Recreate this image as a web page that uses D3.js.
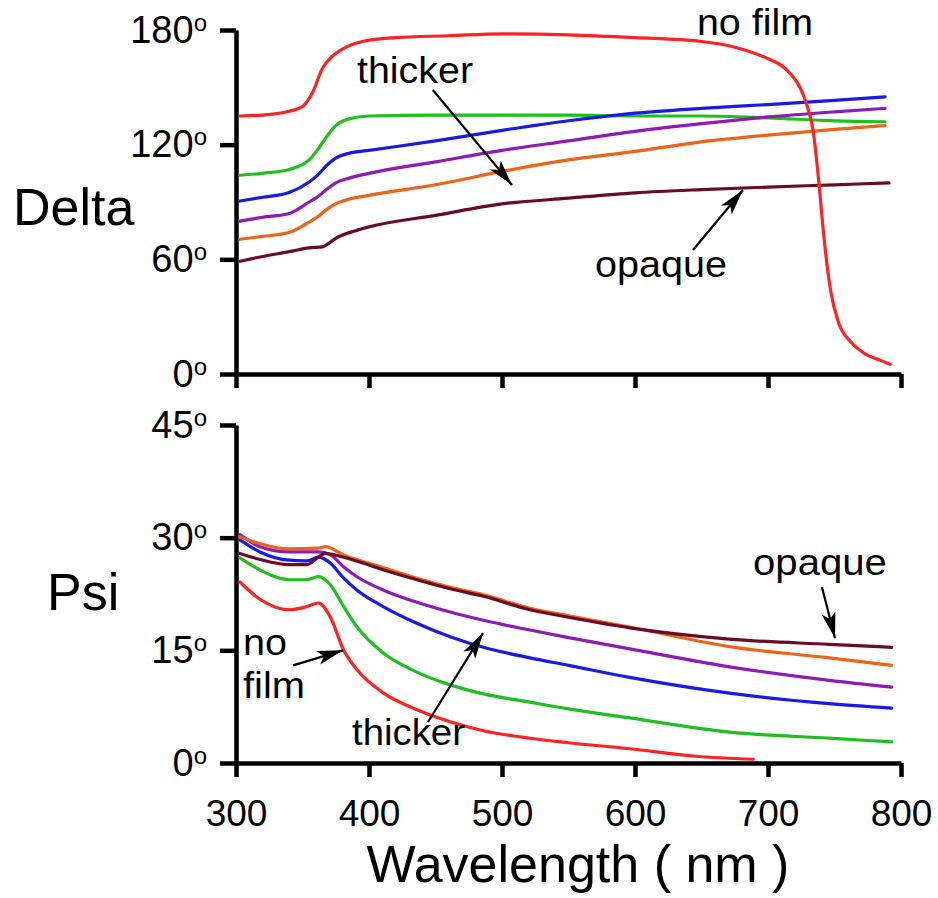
<!DOCTYPE html>
<html>
<head>
<meta charset="utf-8">
<script src="https://cdn.jsdelivr.net/npm/d3@7"></script>
<style>
  body { margin: 0; background: #fff; }
  text { font-family: 'Liberation Sans', Arial, sans-serif; fill: #000; }
</style>
</head>
<body>
<div id="chart"></div>
<script>
// Delta curves, [wavelength (nm), degrees].
var deltaNoFilm = [[303,135],[320,135.5],[340,137.5],[350,140],[358,148],[365,160],[372,166],[380,170],
    [395,174],[420,176],[460,177],[500,178],[550,177.5],[600,176],[650,174],[675,171],[700,165],
    [710,161.5],[717,157],[722,152.5],[726,147],[730,139],[734,127],[738,102],[742,72],[747,44],
    [753,27],[762,17],[772,11],[785,7],[792,5]];
var deltaGreen = [[303,104],[320,105],[340,107],[355,112],[362,118],[368,124],[375,130],[385,133.5],
    [400,135],[450,135.5],[500,135.5],[550,135.5],[600,135],[650,135],[700,134],[750,132.5],[788,132]];
var deltaBlue = [[303,90.5],[320,92.5],[340,95],[355,100.5],[362,104.5],[368,109],[375,113],[385,115.5],
    [400,117],[450,122],[500,127.5],[550,132.5],[600,136.5],[650,139],[700,141],[750,143.2],[788,145]];
var deltaPurple = [[303,80],[320,82],[340,84],[355,90],[362,93],[368,96.5],[375,100],[385,102.5],
    [400,105],[450,111],[500,117],[550,122],[600,127],[650,131],[700,134.5],[750,137.2],[788,139]];
var deltaOrange = [[303,70.5],[320,72],[340,74],[355,79.5],[362,82.5],[368,86],[375,89],[385,91.5],
    [400,93.5],[450,99],[500,106],[550,112],[600,116.5],[650,121.5],[700,125],[750,128],[788,130]];
var deltaOpaque = [[303,59],[320,61.5],[340,64],[355,66],[365,66.5],[370,68.5],[375,71],[390,75],
    [400,77],[450,83],[500,89],[550,92],[600,94.8],[650,96.5],[700,97.8],[750,99],[791,100]];

// Psi curves, [wavelength (nm), degrees].
var psiNoFilm = [[303,24.1],[318,21.8],[340,20.4],[353,20.8],[362,21.3],[371,19.4],[381,15],[391,12.4],
    [411,9.3],[436,7.1],[461,5.5],[486,4.3],[521,3.3],[550,2.7],[596,1.9],[646,0.9],[689,0.5]];
var psiGreen = [[303,27.3],[318,25.7],[340,24.4],[353,24.4],[362,24.8],[371,23.7],[381,20.8],[391,18.1],
    [411,14.6],[436,12.1],[461,10.4],[486,9.2],[521,8.1],[550,7.2],[596,6.0],[671,4.1],[746,3.3],[793,2.8]];
var psiBlue = [[303,29.7],[318,28.1],[340,27.0],[353,26.9],[362,27.4],[371,26.6],[381,24.6],[391,23.0],
    [411,20.8],[436,18.6],[461,16.8],[486,15.4],[521,14.0],[550,13.0],[596,11.4],[671,9.3],[746,7.9],[793,7.3]];
var psiPurple = [[303,30.4],[318,28.8],[340,28.1],[362,28.1],[371,27.7],[381,26.1],[391,24.8],[411,23.0],
    [436,21.4],[461,20.1],[486,19.0],[521,17.7],[550,16.7],[596,15.2],[671,12.8],[746,11.0],[793,10.1]];
var psiOrange = [[303,30.1],[318,29.2],[340,28.5],[362,28.6],[367,28.8],[381,27.7],[411,26.0],[436,24.6],
    [461,23.4],[486,22.4],[521,20.6],[550,19.6],[596,18.1],[671,15.5],[746,14.0],[793,13.0]];
var psiOpaque = [[303,27.9],[318,27.1],[340,26.4],[353,26.4],[362,27.4],[367,27.9],[381,27.4],[411,25.7],
    [436,24.4],[461,23.2],[486,22.2],[521,20.4],[550,19.4],[596,18.0],[671,16.5],[746,15.8],[793,15.4]];

// Tick values.
var xTicks = [300, 400, 500, 600, 700, 800];
var deltaTicks = [0, 60, 120, 180];
var psiTicks = [0, 15, 30, 45];

// Drawing order and colours (no film on top).
var deltaSeries = [deltaGreen, deltaBlue, deltaPurple, deltaOrange, deltaOpaque, deltaNoFilm];
var psiSeries = [psiGreen, psiBlue, psiPurple, psiOrange, psiOpaque, psiNoFilm];
var palette = ['#1fbf1f', '#1a1ae6', '#8c1cb4', '#ec6418', '#6b0c26', '#ff2424'];

// Annotations: text at [wavelength, degrees], arrows from -> to.
var deltaNotes = [
    {text: 'no film', at: [646.6, 177.4], len: 116},
    {text: 'thicker', at: [391, 152.3], len: 116},
    {text: 'opaque', at: [569.9, 50.8], len: 132}
];
var deltaArrows = [[[448, 148.6], [507.5, 98.9]], [[643.6, 64.9], [681.2, 96.3]]];
var psiNotes = [
    {text: 'opaque', at: [688.7, 25.0], len: 134},
    {text: 'no', at: [305.3, 14.4], len: 44},
    {text: 'film', at: [305.3, 8.65], len: 62},
    {text: 'thicker', at: [387.2, 2.4], len: 113}
];
var psiArrows = [[[740.6, 23.4], [750.4, 16.6]], [[342.9, 13.0], [380.5, 15.0]], [[444.4, 5.46], [485.7, 17.3]]];

var width = 938, height = 898;
var svg = d3.select('#chart').append('svg')
    .attr('width', width)
    .attr('height', height);

// Arrow head marker.
svg.append('defs').append('marker')
    .attr('id', 'head')
    .attr('markerUnits', 'userSpaceOnUse')
    .attr('viewBox', '-26 -8 28 16')
    .attr('markerWidth', 28).attr('markerHeight', 16)
    .attr('refX', 0).attr('refY', 0)
    .attr('orient', 'auto')
    .append('path')
    .attr('d', 'M0,0 L-26,-7 L-20,0 L-26,7 Z')
    .attr('fill', '#000');

// Scales.
var x = d3.scaleLinear().domain([300, 800]).range([236, 901]);
var yDelta = d3.scaleLinear().domain([0, 180]).range([374, 30]);
var yPsi = d3.scaleLinear().domain([0, 45]).range([763, 425]);

function degreeLabels(g) {
    g.selectAll('.tick text').append('tspan')
        .attr('font-size', 24)
        .attr('dy', '-0.5em')
        .text('o');
}

function drawPanel(yScale, ticks, series, notes, arrows, showLabels) {
    var xAxis = d3.axisBottom(x).tickValues(xTicks).tickSize(14).tickSizeOuter(0).tickPadding(23);
    if (!showLabels) xAxis.tickFormat('');
    var gx = svg.append('g')
        .attr('transform', 'translate(0,' + yScale(0) + ')')
        .call(xAxis);
    var yAxis = d3.axisLeft(yScale).tickValues(ticks).tickSize(16).tickSizeOuter(0).tickPadding(13);
    var gy = svg.append('g')
        .attr('transform', 'translate(' + x(300) + ',0)')
        .call(yAxis)
        .call(degreeLabels);
    svg.selectAll('.domain, .tick line')
        .attr('stroke', '#000').attr('stroke-width', 4.5);
    gx.selectAll('text').attr('font-size', 37).attr('fill', '#000');
    gy.selectAll('text').attr('font-size', 38).attr('fill', '#000');

    var line = d3.line()
        .x(function (d) {return x(d[0]);})
        .y(function (d) {return yScale(d[1]);})
        .curve(d3.curveMonotoneX);
    svg.append('g').selectAll('path')
        .data(series)
        .enter()
        .append('path')
        .attr('d', line)
        .attr('fill', 'none')
        .attr('stroke', function (d, i) {return palette[i];})
        .attr('stroke-width', 3.2)
        .attr('stroke-linecap', 'round');

    svg.append('g').selectAll('line')
        .data(arrows)
        .enter()
        .append('line')
        .attr('x1', function (d) {return x(d[0][0]);})
        .attr('y1', function (d) {return yScale(d[0][1]);})
        .attr('x2', function (d) {return x(d[1][0]);})
        .attr('y2', function (d) {return yScale(d[1][1]);})
        .attr('stroke', '#000')
        .attr('stroke-width', 2.2)
        .attr('marker-end', 'url(#head)');

    svg.append('g').selectAll('text')
        .data(notes)
        .enter()
        .append('text')
        .attr('x', function (d) {return x(d.at[0]);})
        .attr('y', function (d) {return yScale(d.at[1]);})
        .attr('font-size', 36)
        .attr('textLength', function (d) {return d.len;})
        .attr('lengthAdjust', 'spacingAndGlyphs')
        .text(function (d) {return d.text;});
}

drawPanel(yDelta, deltaTicks, deltaSeries, deltaNotes, deltaArrows, false);
drawPanel(yPsi, psiTicks, psiSeries, psiNotes, psiArrows, true);

// Axis titles.
svg.append('text').attr('x', 13).attr('y', 225).attr('font-size', 52).text('Delta');
svg.append('text').attr('x', 47).attr('y', 610).attr('font-size', 52).text('Psi');
svg.append('text')
    .attr('x', 578).attr('y', 882)
    .attr('text-anchor', 'middle')
    .attr('font-size', 52)
    .text('Wavelength ( nm )');
</script>
</body>
</html>
